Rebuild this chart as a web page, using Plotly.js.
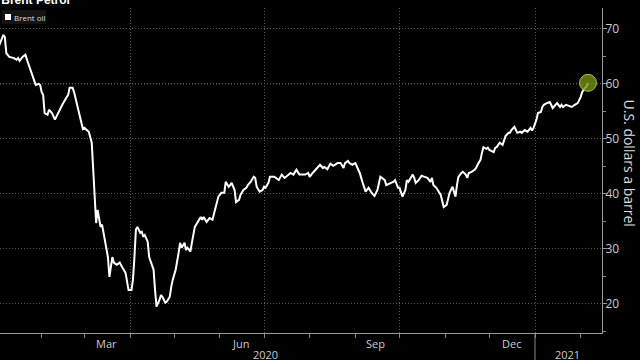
<!DOCTYPE html>
<html><head><meta charset="utf-8">
<script src="https://cdn.plot.ly/plotly-3.0.1.min.js"></script>
<style>html,body{margin:0;padding:0;background:#000;}#chart{width:640px;height:360px;}</style>
</head><body><div id="chart"></div>
<script>
const dates = [
"2020-01-02","2020-01-03","2020-01-06","2020-01-07","2020-01-08","2020-01-10","2020-01-13","2020-01-15","2020-01-16","2020-01-17",
"2020-01-19","2020-01-21","2020-01-22","2020-01-24","2020-01-26","2020-01-28","2020-01-30","2020-01-31","2020-02-01","2020-02-02",
"2020-02-03","2020-02-05","2020-02-06","2020-02-08","2020-02-10","2020-02-12","2020-02-15","2020-02-18","2020-02-19","2020-02-20",
"2020-02-22","2020-02-23","2020-02-25","2020-02-27","2020-02-29","2020-03-01","2020-03-04","2020-03-06","2020-03-07","2020-03-08",
"2020-03-09","2020-03-10","2020-03-11","2020-03-12","2020-03-13","2020-03-14","2020-03-16","2020-03-17","2020-03-18","2020-03-20",
"2020-03-21","2020-03-23","2020-03-25","2020-03-26","2020-03-27","2020-03-29","2020-03-30","2020-03-31","2020-04-02","2020-04-03",
"2020-04-04","2020-04-05","2020-04-06","2020-04-08","2020-04-09","2020-04-10","2020-04-11","2020-04-13","2020-04-14","2020-04-15",
"2020-04-17","2020-04-18","2020-04-19","2020-04-21","2020-04-22","2020-04-23","2020-04-25","2020-04-26","2020-04-28","2020-04-29",
"2020-04-30","2020-05-02","2020-05-03","2020-05-04","2020-05-05","2020-05-06","2020-05-08","2020-05-09","2020-05-10","2020-05-12",
"2020-05-13","2020-05-15","2020-05-17","2020-05-19","2020-05-20","2020-05-21","2020-05-23","2020-05-25","2020-05-27","2020-05-29",
"2020-05-31","2020-06-02","2020-06-04","2020-06-05","2020-06-07","2020-06-08","2020-06-09","2020-06-11","2020-06-12","2020-06-14",
"2020-06-15","2020-06-17","2020-06-19","2020-06-20","2020-06-22","2020-06-24","2020-06-25","2020-06-26","2020-06-28","2020-06-30",
"2020-07-01","2020-07-02","2020-07-04","2020-07-05","2020-07-06","2020-07-08","2020-07-11","2020-07-13","2020-07-15","2020-07-19",
"2020-07-21","2020-07-22","2020-07-23","2020-07-25","2020-07-29","2020-07-31","2020-08-01","2020-08-03","2020-08-06","2020-08-08",
"2020-08-10","2020-08-11","2020-08-13","2020-08-15","2020-08-17","2020-08-20","2020-08-22","2020-08-24","2020-08-25","2020-08-27",
"2020-08-28","2020-08-30","2020-09-01","2020-09-02","2020-09-04","2020-09-06","2020-09-08","2020-09-10","2020-09-12","2020-09-14",
"2020-09-16","2020-09-18","2020-09-21","2020-09-22","2020-09-25","2020-09-27","2020-09-28","2020-09-30","2020-10-01","2020-10-03",
"2020-10-05","2020-10-06","2020-10-07","2020-10-10","2020-10-11","2020-10-12","2020-10-14","2020-10-16","2020-10-18","2020-10-20",
"2020-10-22","2020-10-23","2020-10-24","2020-10-26","2020-10-29","2020-10-30","2020-10-31","2020-11-02","2020-11-03","2020-11-04",
"2020-11-06","2020-11-07","2020-11-08","2020-11-09","2020-11-10","2020-11-12","2020-11-13","2020-11-15","2020-11-16","2020-11-17",
"2020-11-19","2020-11-21","2020-11-22","2020-11-23","2020-11-25","2020-11-26","2020-11-27","2020-11-29","2020-11-30","2020-12-01",
"2020-12-04","2020-12-05","2020-12-06","2020-12-08","2020-12-09","2020-12-10","2020-12-12","2020-12-14","2020-12-15","2020-12-16",
"2020-12-18","2020-12-20","2020-12-22","2020-12-23","2020-12-25","2020-12-27","2020-12-29","2020-12-30","2020-12-31","2021-01-02",
"2021-01-03","2021-01-05","2021-01-06","2021-01-07","2021-01-09","2021-01-11","2021-01-12","2021-01-13","2021-01-15","2021-01-16",
"2021-01-18","2021-01-19","2021-01-20","2021-01-22","2021-01-24","2021-01-26","2021-01-28","2021-01-30","2021-02-01","2021-02-02",
"2021-02-04","2021-02-05","2021-02-06"
];
const prices = [
66.0,66.9,68.9,68.5,65.6,64.9,64.7,64.4,64.7,64.2,
64.9,65.3,64.4,62.9,61.1,59.8,60.0,59.8,58.5,58.0,
54.7,54.4,55.3,54.7,53.5,54.7,56.2,57.6,58.0,59.3,
59.3,58.5,56.2,54.0,51.8,52.0,51.3,49.3,44.9,40.2,
34.7,37.1,35.8,34.0,34.4,32.9,29.8,28.5,24.9,28.5,
27.5,27.1,27.5,27.1,26.5,25.6,23.8,22.5,22.5,24.4,
28.5,33.5,34.0,32.9,33.1,32.2,32.5,31.3,28.5,27.6,
26.2,22.5,19.5,20.7,21.6,21.3,20.2,20.4,21.3,23.1,
24.4,26.2,27.5,29.3,31.1,30.2,31.1,29.8,30.2,29.5,
31.1,34.0,34.9,35.8,35.3,35.8,34.9,35.6,35.3,37.6,
39.5,40.2,40.2,42.2,41.3,41.6,42.0,40.7,38.5,38.9,
39.8,40.7,41.1,41.6,42.2,43.1,42.9,41.3,40.4,40.7,
41.3,41.1,42.0,43.1,43.1,43.1,42.5,43.5,42.9,43.8,
43.5,44.0,44.4,43.5,43.5,43.8,43.1,43.8,44.7,45.3,
44.7,44.9,44.5,45.5,45.1,45.6,45.6,44.7,45.6,46.0,
45.6,45.3,45.6,44.9,43.8,42.0,40.4,41.1,40.2,39.6,
40.7,43.1,42.5,41.6,42.0,42.2,42.5,41.1,41.1,39.5,
40.7,42.5,42.2,43.5,42.9,42.0,42.5,43.3,43.1,42.9,
42.2,42.9,41.6,41.1,39.8,38.4,37.6,38.0,39.3,40.2,
41.3,40.4,39.5,41.6,43.1,43.8,44.0,43.5,42.9,43.8,
44.0,44.4,44.7,45.3,46.2,47.5,48.5,48.2,48.4,48.0,
47.6,48.4,48.5,49.3,49.1,48.9,50.5,51.1,51.1,51.6,
52.2,51.1,51.3,51.1,51.6,51.3,52.0,51.5,52.0,53.5,
54.7,54.9,55.8,56.2,56.5,56.7,56.2,55.6,56.2,56.5,
55.8,56.2,55.8,56.2,56.0,55.8,56.2,56.5,57.6,58.5,
59.3,59.5,60.2
];
const yTicks = [20, 30, 40, 50, 60, 70];
const refLevel = 60;
const quarterStarts = ["2020-04-01","2020-07-01","2020-10-01","2021-01-01"];
const monthStarts = ["2020-02-01","2020-03-01","2020-04-01","2020-05-01","2020-06-01","2020-07-01","2020-08-01",
                     "2020-09-01","2020-10-01","2020-11-01","2020-12-01","2021-01-01","2021-02-01"];
const monthLabels = ["Mar","Jun","Sep","Dec"];
const monthLabelDates = ["2020-03-16","2020-06-15","2020-09-15","2020-12-16"];
const yearLabels = ["2020","2021"];
const yearLabelDates = ["2020-07-02","2021-01-23"];
const yearBreak = "2021-01-01";
const seriesName = "Brent oil";
const chartTitle = "Brent Petrol";
const yTitle = "U.S. dollars a barrel";

const FONT = "Open Sans, DejaVu Sans, sans-serif";
const last = dates.length - 1;

const traces = [
  {x: dates, y: prices, type: "scatter", mode: "lines", name: seriesName,
   line: {color: "#ffffff", width: 2}, hoverinfo: "skip"},
  {x: [dates[last]], y: [prices[last]], type: "scatter", mode: "markers",
   marker: {size: 17, color: "rgba(115,145,20,0.8)", line: {color: "rgba(185,205,60,0.9)", width: 1}},
   hoverinfo: "skip"}
];

const annotations = [];
monthLabels.forEach((t, i) => annotations.push({
  text: t, x: monthLabelDates[i], xref: "x", y: 0, yref: "paper", yanchor: "middle", xanchor: "center",
  yshift: -10, showarrow: false, font: {family: FONT, size: 11, color: "#cccccc"}
}));
yearLabels.forEach((t, i) => annotations.push({
  text: t, x: yearLabelDates[i], xref: "x", y: 0, yref: "paper", yanchor: "middle", xanchor: "center",
  yshift: -21, showarrow: false, font: {family: FONT, size: 11, color: "#cccccc"}
}));
annotations.push({
  text: yTitle, xref: "paper", x: 1, xshift: 27, xanchor: "center", yref: "paper", y: 0.5, yshift: 8,
  yanchor: "middle", textangle: 90, showarrow: false, font: {family: FONT, size: 14, color: "#dddddd"}
});
annotations.push({
  text: seriesName, xref: "paper", x: 0, xanchor: "left", xshift: 12, yref: "paper", y: 1, yanchor: "middle",
  yshift: -9, showarrow: false, font: {family: FONT, size: 8, color: "#dddddd"}
});

const shapes = [
  {type: "line", xref: "paper", x0: 0, x1: 1, yref: "y", y0: refLevel, y1: refLevel,
   line: {color: "#a3304a", width: 1, dash: "1px,2px"}, layer: "between"},
  {type: "line", xref: "x", x0: yearBreak, x1: yearBreak, yref: "paper", y0: 0, y1: -0.09,
   line: {color: "#888888", width: 1}},
  {type: "rect", xref: "paper", yref: "paper", xsizemode: "pixel", ysizemode: "pixel",
   xanchor: 0, yanchor: 1, x0: 2, x1: 46, y0: -2, y1: -16, fillcolor: "#131313", line: {width: 0}, layer: "below"},
  {type: "rect", xref: "paper", yref: "paper", xsizemode: "pixel", ysizemode: "pixel",
   xanchor: 0, yanchor: 1, x0: 5, x1: 11, y0: -6, y1: -12, fillcolor: "#ffffff", line: {width: 0}}
];

const layout = {
  width: 640, height: 360,
  paper_bgcolor: "#000000", plot_bgcolor: "#000000",
  margin: {l: 0, r: 38, t: 8, b: 27, pad: 0},
  showlegend: false,
  font: {family: FONT, color: "#cccccc"},
  title: {text: "<b>" + chartTitle + "</b>", x: 0.002, xanchor: "left", xref: "container",
          y: 1, yanchor: "middle", yref: "container",
          font: {family: "Liberation Sans, Arial, sans-serif", size: 12, color: "#ffffff"}},
  xaxis: {
    type: "date", range: ["2020-01-03 17:00", "2021-02-15 12:00"],
    tickmode: "array", tickvals: quarterStarts, showticklabels: false,
    showgrid: true, gridcolor: "#5a5a5a", griddash: "1px,2px", gridwidth: 1,
    ticks: "outside", ticklen: 4, tickcolor: "#888888",
    showline: true, linecolor: "#999999", linewidth: 1, zeroline: false,
    minor: {tickmode: "array", tickvals: monthStarts, ticks: "outside", ticklen: 4, tickcolor: "#888888", showgrid: false},
    fixedrange: true
  },
  yaxis: {
    side: "right", range: [14.7, 73.8],
    tickmode: "array", tickvals: yTicks,
    showgrid: true, gridcolor: "#5a5a5a", griddash: "1px,2px", gridwidth: 1,
    ticks: "outside", ticklen: 4, tickcolor: "#999999",
    ticklabelstandoff: -4,
    showline: true, linecolor: "#999999", linewidth: 1, zeroline: false,
    tickfont: {family: FONT, size: 12, color: "#cccccc"},
    minor: {dtick: 5, tick0: 0, ticks: "outside", ticklen: 3, tickcolor: "#888888", showgrid: false},
    fixedrange: true
  },
  annotations: annotations,
  shapes: shapes
};

Plotly.newPlot("chart", traces, layout, {staticPlot: true, displayModeBar: false});
</script>
</body></html>
